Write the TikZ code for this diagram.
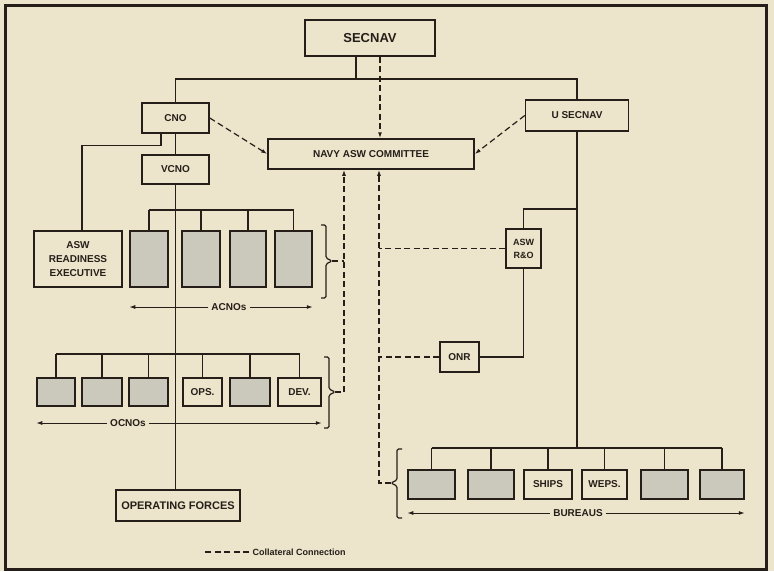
\documentclass[tikz,border=0pt]{standalone}
\usepackage{fontspec}
\setmainfont{Liberation Sans}
\usetikzlibrary{arrows.meta,positioning,calc}
\definecolor{paper}{RGB}{236,229,204}
\definecolor{ink}{RGB}{38,30,24}
\definecolor{shade}{RGB}{203,201,188}

\begin{document}
\begin{tikzpicture}[x=1pt,y=-1pt,
  every node/.style={font=\fontsize{10}{12}\selectfont\bfseries,text=ink},
  >={Latex[length=6pt,width=4pt]},
  box/.style={draw=ink,line width=1.5pt,fill=paper,inner sep=0pt},
  gbox/.style={box,fill=shade},
  wbox/.style={box},
  link/.style={draw=ink,line width=1.3pt},
  coll/.style={draw=ink,line width=1.2pt,dash pattern=on 6pt off 3.5pt},
  span/.style={draw=ink,line width=1pt,->},
  brk/.style={draw=ink,line width=1.2pt,rounded corners=1.5pt}]
\useasboundingbox (0,0) rectangle (774,571);
\fill[paper] (0,0) rectangle (774,571);
\draw[ink,line width=3pt] (5,5) rectangle (766,569);

\node[box,minimum width=130pt,minimum height=36pt,font=\fontsize{13}{15}\selectfont\bfseries] (secnav) at (370,38) {SECNAV};
\node[box,minimum width=67pt,minimum height=30pt] (cno) at (175.5,118) {CNO};
\node[box,minimum width=67pt,minimum height=29pt] (vcno) at (175.5,169.5) {VCNO};
\node[box,minimum width=103pt,minimum height=31pt] (usecnav) at (577,115.5) {U SECNAV};
\node[box,minimum width=206pt,minimum height=30pt] (navy) at (371,154) {NAVY ASW COMMITTEE};
\node[box,minimum width=88pt,minimum height=56pt,align=center,font=\fontsize{10}{14}\selectfont\bfseries] (aswre) at (78,259) {ASW\\READINESS\\EXECUTIVE};
\node[box,minimum width=124pt,minimum height=31pt,font=\fontsize{11}{13}\selectfont\bfseries] (opforces) at (178,505.5) {OPERATING FORCES};
\node[box,minimum width=35pt,minimum height=39pt,align=center,font=\fontsize{9}{13}\selectfont\bfseries] (asrd) at (523.5,248.5) {ASW\\R\&O};
\node[box,minimum width=39pt,minimum height=30pt] (onr) at (459.5,357) {ONR};

% ACNOs, OCNOs, bureaus
\foreach \n/\x/\w in {a1/149/38, a2/201/38, a3/248/36, a4/293.5/37}
  \node[gbox,minimum width=\w pt,minimum height=56pt] (\n) at (\x,259) {};
\foreach \n/\x/\w/\s/\t in {o1/56/38/gbox/{}, o2/102/40/gbox/{}, o3/148.5/39/gbox/{},
    o4/202.5/39/wbox/OPS., o5/250/40/gbox/{}, o6/299.5/43/wbox/DEV.}
  \node[\s,minimum width=\w pt,minimum height=28pt] (\n) at (\x,392) {\t};
\foreach \n/\x/\w/\s/\t in {b1/431.5/47/gbox/{}, b2/491/46/gbox/{}, b3/548/48/wbox/SHIPS,
    b4/604.5/45/wbox/WEPS., b5/664.5/47/gbox/{}, b6/722/44/gbox/{}}
  \node[\s,minimum width=\w pt,minimum height=29pt] (\n) at (\x,484.5) {\t};

\coordinate (top) at (0,79);
\coordinate (abus) at (0,210);
\coordinate (obus) at (0,354);
\coordinate (bbus) at (0,448);
\coordinate (rdbus) at (0,209);

\draw[link] ([xshift=-14pt]secnav.south) -- ([xshift=-14pt]secnav.south |- top);
\draw[link] (cno.north) |- (usecnav.north |- top) -- (usecnav.north);
\draw[link] (cno) -- (vcno);
\draw[link] ([xshift=-14.5pt]cno.south) -- ++(0,12) -| ([xshift=4pt]aswre.north);
\draw[link] (vcno.south) -- (vcno.south |- opforces.north);
\draw[link] (usecnav.south) -- (usecnav.south |- bbus);
\draw[link] (usecnav.south |- rdbus) -| (asrd.north);
\draw[link] (asrd.south) |- (onr.east);

\draw[link] (a1.north |- abus) -- (a4.north |- abus);
\foreach \n in {a1,a2,a3,a4} \draw[link] (\n.north) -- (\n.north |- abus);
\draw[link] (o1.north |- obus) -- (o6.north |- obus);
\foreach \n in {o1,o2,o3,o4,o5,o6} \draw[link] (\n.north) -- (\n.north |- obus);
\draw[link] (b1.north |- bbus) -- (b6.north |- bbus);
\foreach \n in {b1,b2,b3,b4,b5,b6} \draw[link] (\n.north) -- (\n.north |- bbus);

% collateral connections
\draw[coll,->] ([xshift=10pt]secnav.south) -- ([xshift=10pt]secnav.south |- navy.north);
\draw[coll,->] (cno.east) -- (navy.west);
\draw[coll,->] (usecnav.west) -- (navy.east);

% brackets
\coordinate (abr) at (332,261);
\draw[brk] (321,225) -- (326,225) -- (326,258) -- (abr) -- (326,264) -- (326,298) -- (321,298);
\coordinate (obr) at (335,392);
\draw[brk] (324,357) -- (329,357) -- (329,389) -- (obr) -- (329,395) -- (329,428) -- (324,428);
\coordinate (bbr) at (391,483);
\draw[brk] (402,449) -- (397,449) -- (397,480) -- (bbr) -- (397,486) -- (397,518) -- (402,518);

\coordinate (colL) at ([xshift=-27pt]navy.south);
\coordinate (colR) at ([xshift=8pt]navy.south);
\draw[coll,->] (obr) -| (colL);
\draw[coll] (abr) -- (abr -| colL);
\draw[coll,->] (bbr) -| (colR);
\draw[coll] (asrd.west) -- (asrd.west -| colR);
\draw[coll] (onr.west) -- (onr.west -| colR);

\node[fill=paper,inner sep=3pt] (acnos) at (229,307) {ACNOs};
\draw[span] (acnos.west) -- (acnos.west -| a1.west);
\draw[span] (acnos.east) -- (acnos.east -| a4.east);
\node[fill=paper,inner sep=3pt] (ocnos) at (128,423) {OCNOs};
\draw[span] (ocnos.west) -- (ocnos.west -| o1.west);
\draw[span] (ocnos.east) -- (ocnos.east -| o6.east);
\node[fill=paper,inner sep=3pt] (bureaus) at (578,513) {BUREAUS};
\draw[span] (bureaus.west) -- (bureaus.west -| b1.west);
\draw[span] (bureaus.east) -- (bureaus.east -| b6.east);

\node[anchor=west,font=\fontsize{9}{11}\selectfont\bfseries] (legend) at (249,552) {Collateral Connection};
\draw[coll] (legend.west) -- ++(-44,0);
\end{tikzpicture}
\end{document}
